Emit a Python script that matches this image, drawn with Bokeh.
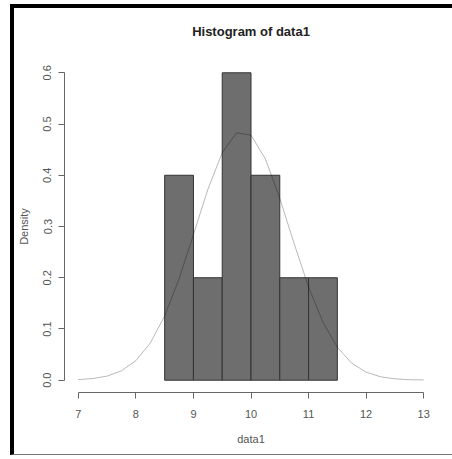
from bokeh.plotting import figure
from bokeh.models import FixedTicker, PrintfTickFormatter, Range1d, Title
from bokeh.embed import file_html
from bokeh.resources import INLINE

# Histogram data (density scale)
bin_left = [8.5, 9.0, 9.5, 10.0, 10.5, 11.0]
bin_right = [9.0, 9.5, 10.0, 10.5, 11.0, 11.5]
density = [0.4, 0.2, 0.6, 0.4, 0.2, 0.2]

# Overlaid density curve
curve_x = [7.0, 7.25, 7.5, 7.75, 8.0, 8.25, 8.5, 8.75, 9.0, 9.25, 9.5, 9.75,
           10.0, 10.25, 10.5, 10.75, 11.0, 11.25, 11.5, 11.75, 12.0, 12.25,
           12.5, 12.75, 13.0]
curve_y = [0.0012, 0.0032, 0.0080, 0.0183, 0.0382, 0.0725, 0.1255, 0.1979,
           0.2843, 0.3722, 0.4441, 0.4829, 0.4784, 0.4319, 0.3553, 0.2664,
           0.1820, 0.1133, 0.0643, 0.0332, 0.0157, 0.0067, 0.0026, 0.0010,
           0.0004]

x_ticks = [7, 8, 9, 10, 11, 12, 13]
y_ticks = [0.0, 0.1, 0.2, 0.3, 0.4, 0.5, 0.6]

FONT = "Liberation Sans"
TXT = "#555555"

W, H = 442, 451
p = figure(width=W, height=H, output_backend="svg", toolbar_location=None,
           x_range=Range1d(6.76, 13.24), y_range=Range1d(-0.024, 0.624),
           min_border_left=50, min_border_right=19, min_border_top=52,
           min_border_bottom=67,
           title="Histogram of data1", x_axis_label="data1", y_axis_label="Density")

p.styles = {"margin-left": "10px", "margin-top": "4px",
            "border-left": "4px solid black", "border-top": "4px solid black",
            "border-bottom": "1px solid #777777"}

p.title.align = "center"
p.title.text_font = FONT
p.title.text_font_size = "13px"
p.title.text_font_style = "bold"
p.title.text_color = "#222222"

# small empty spacer between the title and the plot area
p.add_layout(Title(text=" ", text_font_size="4px"), "above")

p.outline_line_color = None
p.xgrid.visible = False
p.ygrid.visible = False
p.background_fill_color = "white"
p.border_fill_color = "white"

p.quad(left=bin_left, right=bin_right, top=density, bottom=0,
       fill_color="#6e6e6e", line_color="#333333", line_width=1)
p.line(curve_x, curve_y, line_color="black", line_alpha=0.28, line_width=1)

for ax in (p.xaxis[0], p.yaxis[0]):
    ax.major_tick_in = 0
    ax.major_tick_out = 6
    ax.minor_tick_out = 0
    ax.minor_tick_in = 0
    ax.axis_line_color = "#666666"
    ax.major_tick_line_color = "#666666"
    ax.major_label_text_font = FONT
    ax.major_label_text_font_size = "11px"
    ax.major_label_text_color = TXT
    ax.axis_label_text_font = FONT
    ax.axis_label_text_font_size = "11px"
    ax.axis_label_text_font_style = "normal"
    ax.axis_label_text_color = TXT

p.xaxis.ticker = FixedTicker(ticks=x_ticks)
p.xaxis.bounds = (7, 13)
p.xaxis.major_label_standoff = 11
p.xaxis.axis_label_standoff = 12

p.yaxis.ticker = FixedTicker(ticks=y_ticks)
p.yaxis.bounds = (0, 0.6)
p.yaxis.formatter = PrintfTickFormatter(format="%.1f")
p.yaxis.major_label_orientation = "vertical"
p.yaxis.major_label_standoff = 7
p.yaxis.axis_label_standoff = 11

open("out.html", "w").write(file_html(p, INLINE))
